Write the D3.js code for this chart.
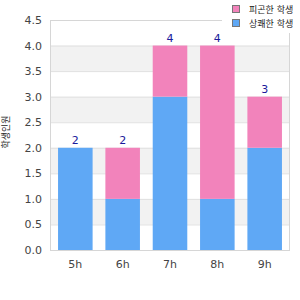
<!DOCTYPE html>
<html><head><meta charset="utf-8">
<script src="https://cdn.jsdelivr.net/npm/d3@7"></script>
<style>body{margin:0;background:#fff}svg{display:block}</style>
</head><body>
<svg id="c" width="300" height="300"></svg>
<script>
const categories = ["5h","6h","7h","8h","9h"];
const blueValues = [2,1,3,1,2];
const pinkValues = [0,1,1,3,1];
const seriesNames = ["피곤한 학생","상쾌한 학생"]; // pink, blue
const yTicks = [0,0.5,1,1.5,2,2.5,3,3.5,4,4.5];
const yTitle = "학생인원";

const svg = d3.select("#c");
const font = "'DejaVu Sans', 'Noto Sans CJK KR', sans-serif";
const L=50,R=290,T=20,B=250;
const x = d3.scaleBand().domain(categories).range([L,R]).paddingInner(0.27).paddingOuter(0.17);
const y = d3.scaleLinear().domain([0,4.5]).range([B,T]);

// bands
for (let i=0;i<yTicks.length-1;i++){
  const a=yTicks[i], b=yTicks[i+1];
  if (i%2===1) svg.append("rect").attr("x",L).attr("y",y(b)).attr("width",R-L).attr("height",y(a)-y(b)).attr("fill","#f2f2f2");
}
// gridlines
svg.append("g").selectAll("line").data(yTicks).join("line")
  .attr("x1",L).attr("x2",R).attr("y1",d=>y(d)+0.5).attr("y2",d=>y(d)+0.5)
  .attr("stroke","#e0e0e0");
// frame
svg.append("rect").attr("x",L+0.5).attr("y",T+0.5).attr("width",R-L-1).attr("height",B-T)
  .attr("fill","none").attr("stroke","#d6d6d6");

const stacked = categories.map((c,i)=>({c, b:blueValues[i], p:pinkValues[i]}));
svg.append("g").selectAll("rect").data(stacked).join("rect")
  .attr("x",d=>x(d.c)).attr("width",x.bandwidth())
  .attr("y",d=>y(d.b)).attr("height",d=>y(0)-y(d.b)).attr("fill","#5fa8f5");
svg.append("g").selectAll("rect").data(stacked.filter(d=>d.p>0)).join("rect")
  .attr("x",d=>x(d.c)).attr("width",x.bandwidth())
  .attr("y",d=>y(d.b+d.p)).attr("height",d=>y(d.b)-y(d.b+d.p)).attr("fill","#f283bb");
// totals
svg.append("g").selectAll("text").data(stacked).join("text")
  .attr("x",d=>x(d.c)+x.bandwidth()/2).attr("y",d=>y(d.b+d.p)-4)
  .attr("text-anchor","middle").attr("font-family",font).attr("font-size",11)
  .attr("fill","#1a1a9c").text(d=>d.b+d.p);

// y axis labels
svg.append("g").selectAll("text").data(yTicks).join("text")
  .attr("x",42).attr("y",d=>y(d)+4).attr("text-anchor","end")
  .attr("font-family",font).attr("font-size",11).attr("fill","#444").text(d=>d.toFixed(1));
// x axis labels
svg.append("g").selectAll("text").data(categories).join("text")
  .attr("x",d=>x(d)+x.bandwidth()/2).attr("y",268).attr("text-anchor","middle")
  .attr("font-family",font).attr("font-size",11).attr("fill","#444").text(d=>d);
// y title
svg.append("text").attr("transform","translate(9,132) rotate(-90)").attr("text-anchor","middle")
  .attr("font-family",font).attr("font-size",9).attr("fill","#222").text(yTitle);

// legend
const lg = svg.append("g");
lg.append("rect").attr("x",222).attr("y",0).attr("width",78).attr("height",33).attr("fill","#fff");
const legendColors = ["#f283bb","#5fa8f5"];
seriesNames.forEach((n,i)=>{
  lg.append("rect").attr("x",232.5).attr("y",5.5+i*14).attr("width",7).attr("height",7)
    .attr("fill",legendColors[i]).attr("stroke","#777");
  lg.append("text").attr("x",249).attr("y",12.5+i*14).attr("font-family",font).attr("font-size",9)
    .attr("fill","#222").text(n);
});
</script>
</body></html>
